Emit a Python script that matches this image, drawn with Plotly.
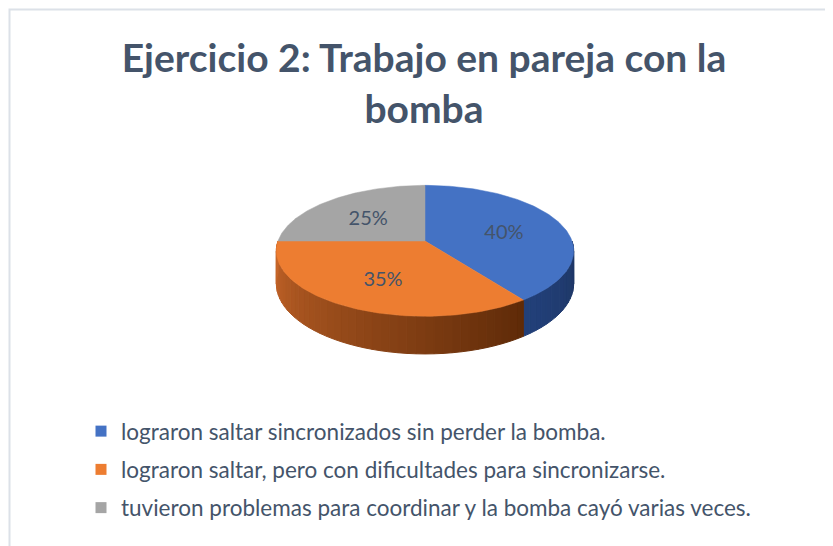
import numpy as np
import plotly.graph_objects as go

# ---- data ----
categories = [
    "lograron saltar sincronizados sin perder la bomba.",
    "lograron saltar, pero con dificultades para sincronizarse.",
    "tuvieron problemas para coordinar y la bomba cayó varias veces.",
]
values = [40, 35, 25]
pct_labels = ["40%", "35%", "25%"]

# ---- style ----
top_colors = ["#4472C4", "#ED7D31", "#A5A5A5"]
side_left = ["#22407A", "#C8672A", "#8C8C8C"]
side_right = ["#1D3561", "#5E2A08", "#5A5A5A"]
TEXT = "#44546A"
FONT = "Lato"
OFF = 8  # page body margin, so axis units equal screen pixels

CX, CY = 425, 241
RX, RY = 147, 64
DEPTH = 32
PERSP = 0.15


def project(theta_deg, r=1.0, h=0.0):
    t = np.radians(theta_deg)
    u = np.sin(t) * r
    v = -np.cos(t) * r
    f = 1.0 / (1.0 - PERSP * v)
    return CX + RX * u * f, CY + (RY * v + h) * f


def hexmix(c1, c2, a):
    a = min(max(a, 0), 1)
    c1 = [int(c1[i:i + 2], 16) for i in (1, 3, 5)]
    c2 = [int(c2[i:i + 2], 16) for i in (1, 3, 5)]
    return "rgb(%d,%d,%d)" % tuple(round(x + (y - x) * a) for x, y in zip(c1, c2))


total = sum(values)
bounds = np.concatenate([[0], np.cumsum(values)]) * 360.0 / total

fig = go.Figure()

# side walls (front, visible part)
for i in range(len(values)):
    a0, a1 = bounds[i], bounds[i + 1]
    s0, s1 = max(a0, 90), min(a1, 270)
    if s1 <= s0:
        continue
    n = max(2, int((s1 - s0) / 3))
    edges = np.linspace(s0, s1, n + 1)
    for k in range(n):
        th = np.linspace(edges[k], edges[k + 1], 4)
        xt, yt = project(th)
        xb, yb = project(th[::-1], h=DEPTH)
        xs = np.concatenate([xt, xb, xt[:1]])
        ys = np.concatenate([yt, yb, yt[:1]])
        frac = (s1 - 0.5 * (edges[k] + edges[k + 1])) / max(s1 - s0, 1e-6)
        col = hexmix(side_left[i], side_right[i], frac)
        fig.add_trace(go.Scatter(x=xs, y=ys, mode="lines", fill="toself",
                                 fillcolor=col, line=dict(color=col, width=1),
                                 hoverinfo="skip", showlegend=False))

# top faces
for i in range(len(values)):
    th = np.linspace(bounds[i], bounds[i + 1], 120)
    xa, ya = project(th)
    xs = np.concatenate([[CX], xa, [CX]])
    ys = np.concatenate([[CY], ya, [CY]])
    fig.add_trace(go.Scatter(x=xs, y=ys, mode="lines", fill="toself",
                             fillcolor=top_colors[i],
                             line=dict(color=top_colors[i], width=0.5),
                             hoverinfo="skip", showlegend=False))

# percentage labels
mids = 0.5 * (bounds[:-1] + bounds[1:])
lx, ly = project(mids, r=0.58)
fig.add_trace(go.Scatter(x=lx, y=ly + 4, mode="text", text=pct_labels,
                         textfont=dict(family=FONT, size=20, color=TEXT),
                         hoverinfo="skip", showlegend=False))

# legend entries
for i, cat in enumerate(categories):
    fig.add_trace(go.Scatter(x=[None], y=[None], mode="markers", name=cat,
                             legendgroup=str(i),
                             marker=dict(symbol="square", size=11, color=top_colors[i])))

W, H = 833, 546
fig.update_layout(
    width=W, height=H,
    margin=dict(l=0, r=0, t=0, b=0),
    paper_bgcolor="white", plot_bgcolor="white",
    xaxis=dict(range=[OFF, W + OFF], visible=False, fixedrange=True),
    yaxis=dict(range=[H + OFF, OFF], visible=False, fixedrange=True),
    title=dict(text="Ejercicio 2: Trabajo en pareja con la<br>bomba",
               font=dict(family=FONT, size=39, color=TEXT, weight="bold"),
               x=(424 - OFF) / W, xanchor="center", xref="paper",
               y=1 - (72 - OFF) / H, yanchor="top", yref="container"),
    legend=dict(x=(81 - OFF) / W, xanchor="left", y=1 - (410 - OFF) / H, yanchor="top",
                font=dict(family=FONT, size=22.5, color=TEXT),
                tracegroupgap=6, bgcolor="rgba(0,0,0,0)"),
    shapes=[dict(type="rect", xref="x", yref="y", x0=9.5, y0=9.5, x1=880, y1=600,
                 line=dict(color="#DCE1E8", width=2), fillcolor="rgba(0,0,0,0)",
                 layer="below")],
)

fig.write_html("out.html")
